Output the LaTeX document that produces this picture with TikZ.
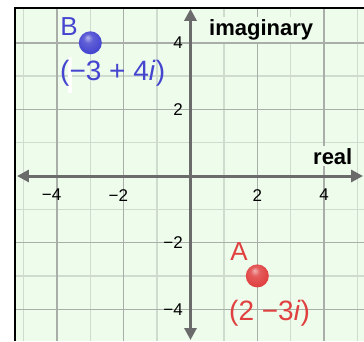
\documentclass[tikz,border=0pt]{standalone}
\usepackage{fontspec}
\setmainfont{Liberation Sans}
\usetikzlibrary{arrows.meta}
\definecolor{bg}{HTML}{EDFCEB}
\definecolor{minorgrid}{HTML}{D0DBD0}
\definecolor{majorgrid}{HTML}{A9AEA9}
\definecolor{axisgray}{HTML}{6B6B6B}
\definecolor{ptblue}{HTML}{4545D0}
\definecolor{ptred}{HTML}{E04040}
\pgfdeclareradialshading{blueball}{\pgfpoint{-6bp}{12bp}}{color(0bp)=(white!60!ptblue); color(10bp)=(white!15!ptblue); color(28bp)=(ptblue); color(50bp)=(ptblue!75!black)}
\pgfdeclareradialshading{redball}{\pgfpoint{-6bp}{12bp}}{color(0bp)=(white!60!ptred); color(10bp)=(white!15!ptred); color(28bp)=(ptred); color(50bp)=(ptred!80!black)}
\tikzset{
  minorline/.style={draw=minorgrid, line width=1.4pt},
  majorline/.style={draw=majorgrid, line width=1.4pt},
  axisline/.style={draw=axisgray, line width=3pt, {Triangle[length=12pt,width=12pt]}-{Triangle[length=12pt,width=12pt]}},
  ticklabel/.style={font=\fontsize{17}{17}\selectfont, inner sep=0pt, text=black},
  axislabel/.style={font=\fontsize{22}{22}\selectfont\bfseries, text=black, fill=bg, inner sep=2pt},
  bluename/.style={font=\fontsize{26}{26}\selectfont, text=ptblue, inner sep=0pt},
  redname/.style={font=\fontsize{26}{26}\selectfont, text=ptred, inner sep=0pt},
  blueval/.style={font=\fontsize{28}{28}\selectfont, text=ptblue, inner sep=0pt},
  redval/.style={font=\fontsize{28}{28}\selectfont, text=ptred, inner sep=0pt},
  ptball/.style={circle, minimum size=23pt, inner sep=0pt, shade, shading=#1}
}
\begin{document}
\begin{tikzpicture}[x=33.4pt,y=33.3pt]
\useasboundingbox (-5.7036,-4.9550) rectangle (5.1946,5.2853);
\fill[white] (-5.7036,-4.9550) rectangle (5.1946,5.2853);
\fill[bg] (-5.24,-4.955) rectangle (5.1946,5.045);
% grid
\foreach \k in {-5,-3,-1,1,3,5} \path[minorline] (\k,-4.955) -- (\k,5.045);
\foreach \k in {-3,-1,1,3} \path[minorline] (-5.24,\k) -- (5.1946,\k);
\foreach \k in {-4,-2,2,4} \path[majorline] (\k,-4.955) -- (\k,5.045);
\foreach \k in {-4,-2,2,4} \path[majorline] (-5.24,\k) -- (5.1946,\k);
% white artifact bar
\fill[white] (-3.668,3.568) rectangle (-3.533,2.50);
% axes
\coordinate (xl) at (-5.195,0);
\coordinate (xr) at (5.165,0);
\coordinate (yt) at (0,5.02);
\coordinate (yb) at (0,-4.925);
\path[axisline] (xl) -- (xr);
\path[axisline] (yb) -- (yt);
% border
\draw[black, line width=2pt] (-5.24,-4.955) -- (-5.24,5.045) -- (5.1946,5.045);
% axis labels
\node[axislabel, anchor=base west] (im) at (0.494,4.234) {imaginary};
\node[axislabel, anchor=base west] (re) at (3.608,0.36) {real};
% tick labels
\node[ticklabel, anchor=north east] (tx1) at (-3.865,-0.39) {−4};
\node[ticklabel, anchor=north east] (tx2) at (-1.865,-0.39) {−2};
\node[ticklabel, anchor=north] (tx3) at (2,-0.39) {2};
\node[ticklabel, anchor=north] (tx4) at (4,-0.39) {4};
\node[ticklabel, anchor=east] (ty1) at (-0.225,4) {4};
\node[ticklabel, anchor=east] (ty2) at (-0.225,2) {2};
\node[ticklabel, anchor=east] (ty3) at (-0.225,-2) {−2};
\node[ticklabel, anchor=east] (ty4) at (-0.225,-4) {−4};
% points
\node[ptball=blueball] (B) at (-3,4) {};
\node[ptball=redball] (A) at (2,-3) {};
\node[bluename] (Bname) at (-3.64,4.474) {B};
\node[blueval, anchor=west] (Bval) at (-3.907,3.078) {(−3 + 4\textit{i})};
\node[redname] (Aname) at (1.452,-2.282) {A};
\node[redval, anchor=west] (Aval) at (1.153,-4.114) {(2 −3\textit{i})};
\end{tikzpicture}
\end{document}
